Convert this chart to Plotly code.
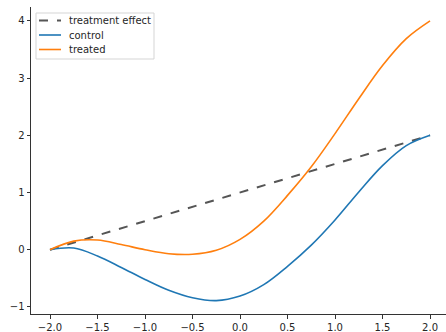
import plotly.graph_objects as go

x_vals = [-2.0, -1.75, -1.5, -1.25, -1.0, -0.75, -0.5, -0.25, 0.0,
          0.25, 0.5, 0.75, 1.0, 1.25, 1.5, 1.75, 2.0]
control = [0.00, 0.03, -0.11, -0.31, -0.52, -0.71, -0.84, -0.89, -0.81,
           -0.61, -0.29, 0.08, 0.52, 1.01, 1.47, 1.82, 2.00]
treated = [0.00, 0.15, 0.17, 0.09, 0.00, -0.07, -0.08, -0.01, 0.18,
           0.50, 0.95, 1.45, 2.03, 2.64, 3.22, 3.69, 4.00]
effect_x = [-2.0, 2.0]
effect_y = [0.0, 2.0]

x_ticks = [-2.0, -1.5, -1.0, -0.5, 0.0, 0.5, 1.0, 1.5, 2.0]
x_tick_text = ["\u22122.0", "\u22121.5", "\u22121.0", "\u22120.5", "0.0", "0.5", "1.0", "1.5", "2.0"]
y_ticks = [-1, 0, 1, 2, 3, 4]
y_tick_text = ["\u22121", "0", "1", "2", "3", "4"]

names = ["treatment effect", "control", "treated"]
colors = ["#555555", "#1f77b4", "#ff7f0e"]
dashes = ["dash", "solid", "solid"]
widths = [2, 1.6, 1.6]

W, H = 446, 332
ML, MR, MT, MB = 31, 0, 7, 18
PW, PH = W - ML - MR, H - MT - MB


def px(x):
    return (x - ML) / PW


def py(y):
    return (H - MB - y) / PH


fig = go.Figure()
fig.add_trace(go.Scatter(x=effect_x, y=effect_y, mode="lines", name=names[0],
                         line=dict(color=colors[0], width=widths[0], dash=dashes[0])))
fig.add_trace(go.Scatter(x=x_vals, y=control, mode="lines", name=names[1],
                         line=dict(color=colors[1], width=widths[1], shape="spline", smoothing=1.0)))
fig.add_trace(go.Scatter(x=x_vals, y=treated, mode="lines", name=names[2],
                         line=dict(color=colors[2], width=widths[2], shape="spline", smoothing=1.0)))

# legend drawn as shapes + annotations (matplotlib-like compact legend)
shapes = [dict(type="rect", xref="paper", yref="paper",
               x0=px(36), x1=px(154), y0=py(13), y1=py(59),
               line=dict(color="#d5d5d5", width=1), fillcolor="rgba(255,255,255,0.8)", layer="above")]
annotations = []
row_y = [20.5, 35, 49.5]
for name, c, d, w, ry in zip(names, colors, dashes, widths, row_y):
    shapes.append(dict(type="line", xref="paper", yref="paper",
                       x0=px(39), x1=px(61), y0=py(ry), y1=py(ry),
                       line=dict(color=c, width=w, dash=d), layer="above"))
    annotations.append(dict(xref="paper", yref="paper", x=px(67), y=py(ry),
                            xanchor="left", yanchor="middle", showarrow=False, text=name,
                            font=dict(family="DejaVu Sans", size=10, color="#262626")))

axis_common = dict(showgrid=False, zeroline=False, showline=True, linecolor="#333333",
                   linewidth=1, ticks="outside", ticklen=3.5, tickcolor="#333333",
                   automargin=False,
                   tickfont=dict(family="DejaVu Sans", size=10, color="#262626"))
fig.update_xaxes(range=[-2.2, 2.168], tickvals=x_ticks, ticktext=x_tick_text, **axis_common)
fig.update_yaxes(range=[-1.124, 4.244], tickvals=y_ticks, ticktext=y_tick_text, **axis_common)

fig.update_layout(
    width=W, height=H,
    margin=dict(l=ML, r=MR, t=MT, b=MB),
    paper_bgcolor="white", plot_bgcolor="white",
    font=dict(family="DejaVu Sans", size=10, color="#262626"),
    showlegend=False,
    shapes=shapes,
    annotations=annotations,
)

fig.write_html("out.html", config={"displayModeBar": False},
               post_script="document.body.style.margin='0';document.body.style.overflow='hidden';")
